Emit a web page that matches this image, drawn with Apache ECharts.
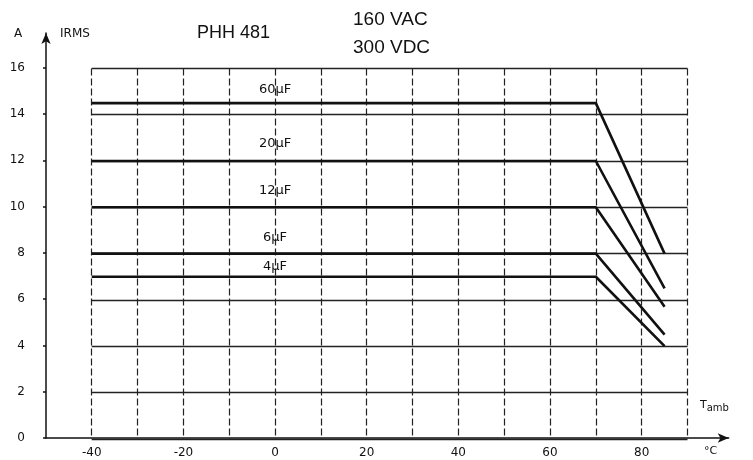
<!DOCTYPE html>
<html><head><meta charset="utf-8">
<script src="https://cdn.jsdelivr.net/npm/echarts@6/dist/echarts.min.js"></script>
<style>html,body{margin:0;padding:0;background:#fff}#c{width:753px;height:460px}</style>
</head><body><div id="c"></div>
<script>
// ---- data ----
const capNames = ['60µF', '20µF', '12µF', '6µF', '4µF'];
const tempPoints = [-40, 70, 85];           // °C: start, knee, end
const currentPlateau = [14.5, 12, 10, 8, 7]; // A (flat part)
const currentEnd = [8, 6.5, 5.7, 4.5, 4.0];  // A at 85 °C
const labelY = [15.1, 12.75, 10.7, 8.7, 7.45];
const xTicks = [-40, -20, 0, 20, 40, 60, 80];
const yTicks = [0, 2, 4, 6, 8, 10, 12, 14, 16];

const chart = echarts.init(document.getElementById('c'), null, {renderer: 'canvas'});
const fontTick = 'DejaVu Sans';
const series = capNames.map((n, i) => ({
  type: 'line', name: n, xAxisIndex: 1, yAxisIndex: 1,
  data: [[tempPoints[0], currentPlateau[i]], [tempPoints[1], currentPlateau[i]], [tempPoints[2], currentEnd[i]]],
  symbol: 'none', lineStyle: {color: '#111', width: 2.6}, z: 5,
  markPoint: {
    symbol: 'circle', symbolSize: 0,
    data: [{coord: [0, labelY[i]], value: n}],
    label: {show: true, formatter: n, color: '#111', fontFamily: fontTick, fontSize: 13, position: 'inside'}
  }
}));

chart.setOption({
  animation: false,
  backgroundColor: '#fff',
  grid: [
    {left: 46, top: 33, width: 682.7, height: 405},
    {left: 91.7, top: 68.4, width: 595.8, height: 370.4}
  ],
  xAxis: [
    {type: 'value', gridIndex: 0, min: -50, max: 99,
     axisLine: {show: true, onZero: false, lineStyle: {color: '#111', width: 1.5}, symbol: ['none', 'arrow'], symbolSize: [7, 11]},
     axisTick: {show: false}, splitLine: {show: false},
     axisLabel: {customValues: xTicks, color: '#111', fontFamily: fontTick, fontSize: 12, margin: 9}},
    {type: 'value', gridIndex: 1, min: -40, max: 90, interval: 10,
     axisLine: {show: false}, axisTick: {show: false}, axisLabel: {show: false},
     splitLine: {show: true, lineStyle: {color: '#222', width: 1.2, type: [7, 3]}}}
  ],
  yAxis: [
    {type: 'value', gridIndex: 0, min: 0, max: 17.5,
     axisLine: {show: true, onZero: false, lineStyle: {color: '#111', width: 1.5}, symbol: ['none', 'arrow'], symbolSize: [7, 11]},
     axisTick: {show: true, customValues: yTicks, length: 3, lineStyle: {color: '#111', width: 1.5}},
     splitLine: {show: false},
     axisLabel: {customValues: yTicks, color: '#111', fontFamily: fontTick, fontSize: 12, margin: 21}},
    {type: 'value', gridIndex: 1, min: 0, max: 16, interval: 2,
     axisLine: {show: false}, axisTick: {show: false}, axisLabel: {show: false},
     splitLine: {show: true, lineStyle: {color: '#222', width: 1.3}}}
  ],
  series: series,
  graphic: [
    {type: 'text', left: 14, top: 28, style: {text: 'A', font: '12px "DejaVu Sans"', fill: '#111'}},
    {type: 'text', left: 60, top: 28, style: {text: 'IRMS', font: '12px "DejaVu Sans"', fill: '#111'}},
    {type: 'text', left: 197, top: 24, style: {text: 'PHH 481', font: '18px "Liberation Sans"', fill: '#111'}},
    {type: 'text', left: 353, top: 10, style: {text: '160 VAC', font: '19px "Liberation Sans"', fill: '#111'}},
    {type: 'text', left: 353, top: 38, style: {text: '300 VDC', font: '19px "Liberation Sans"', fill: '#111'}},
    {type: 'text', left: 700, top: 400, style: {text: '{t|T}{s|amb}', rich: {t: {font: '11px "DejaVu Sans"', fill: '#111'}, s: {font: '10px "DejaVu Sans"', fill: '#111', padding: [6, 0, 0, 0]}}}},
    {type: 'text', left: 704, top: 446, style: {text: '°C', font: '11px "DejaVu Sans"', fill: '#111'}}
  ]
});
</script></body></html>
